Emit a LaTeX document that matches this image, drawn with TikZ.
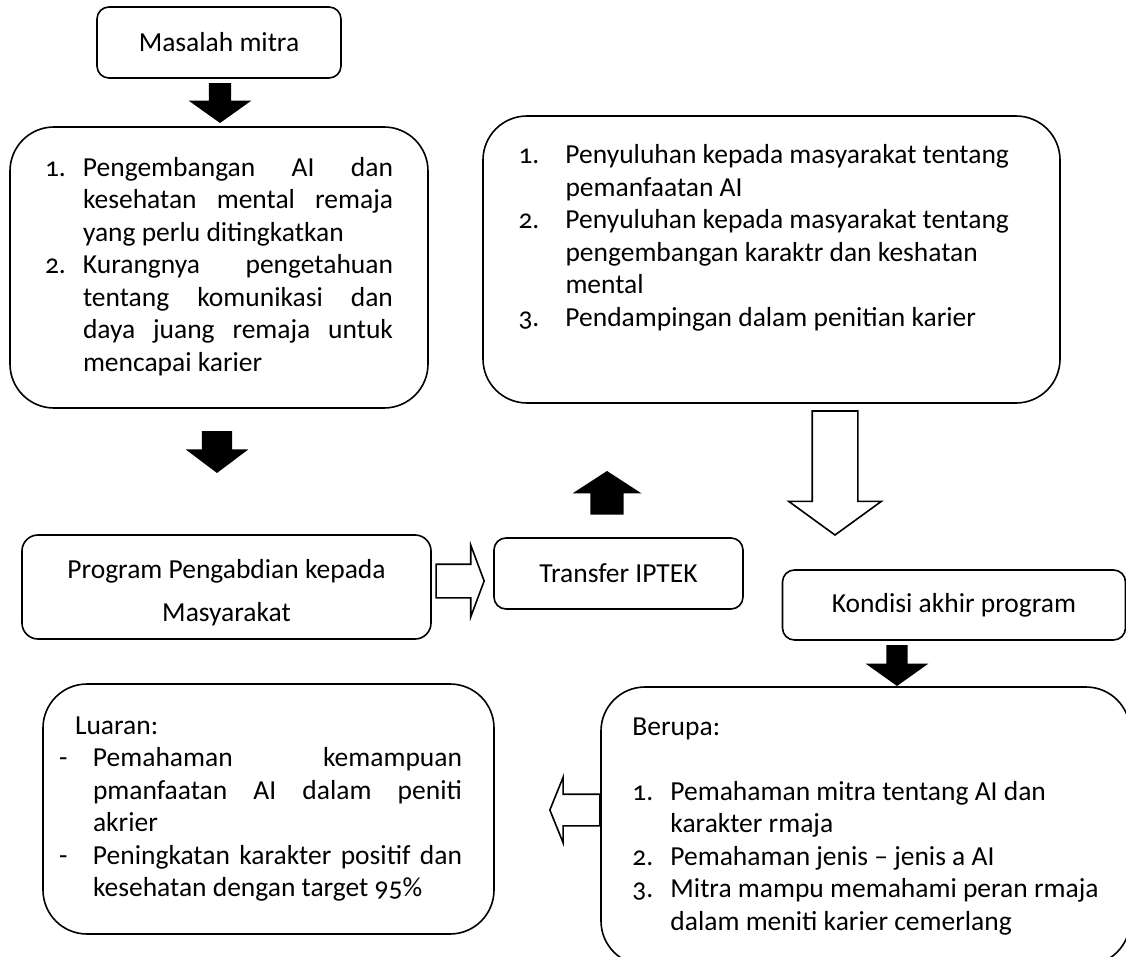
\documentclass[tikz,border=0pt]{standalone}
\usepackage{fontspec}
\setmainfont{Carlito}[Numbers=OldStyle]
\usepackage{tikz}
\usetikzlibrary{shapes.arrows}

\newcommand{\J}[1]{\makebox[\linewidth][s]{#1}}

\begin{document}
\begin{tikzpicture}[
    x = 1pt, y = -1pt, % pixel grid, y going down
    font = \fontsize{27.5}{32.5}\selectfont, % body text
    line width = 1.6pt % line style
    ]

    \tikzset{
    box/.style = {draw = black, rounded corners = 12pt, inner sep = 0pt},
    bigbox/.style = {box, rounded corners = 44pt},
    blackarrow/.style = {single arrow, draw = black, fill = black},
    whitearrow/.style = {single arrow, draw = black, fill = white}
    }

    \useasboundingbox (0,0) rectangle (1126,957);

    \node[box, minimum width = 244pt, minimum height = 71pt] (masalah) at (219,42.5) {Masalah mitra};
    \node[bigbox, minimum width = 418pt, minimum height = 281pt] (problem) at (219,267.5) {
      \begin{tabular}{@{}p{38pt}@{}p{310pt}@{}}
      1. & \J{Pengembangan AI dan}\\
         & \J{kesehatan mental remaja}\\
         & yang perlu ditingkatkan\\
      2. & \J{Kurangnya pengetahuan}\\
         & \J{tentang komunikasi dan}\\
         & \J{daya juang remaja untuk}\\
         & mencapai karier
      \end{tabular}};
    \node[bigbox, minimum width = 577pt, minimum height = 287pt] (penyuluhan) at (771.5,259.5) {
      \begin{tabular}{@{}p{47pt}@{}p{459pt}@{}}
      1. & Penyuluhan kepada masyarakat tentang\\
         & pemanfaatan AI\\
      2. & Penyuluhan kepada masyarakat tentang\\
         & pengembangan karaktr dan keshatan\\
         & mental\\
      3. & Pendampingan dalam penitian karier\\[42pt]
      \end{tabular}};

    \node[box, rounded corners = 16pt, minimum width = 409pt, minimum height = 104pt] (program) at (226.5,587) {
      \begin{tabular}{@{}c@{}}
      Program Pengabdian kepada\rule{0pt}{34.75pt}\\[10.5pt]
      Masyarakat
      \end{tabular}};
    \node[box, minimum width = 249pt, minimum height = 71pt] (transfer) at (618.5,573.5) {Transfer IPTEK};
    \node[box, minimum width = 343pt, minimum height = 70pt] (kondisi) at (954,605) {Kondisi akhir program};

    \node[bigbox, minimum width = 451pt, minimum height = 250pt] (luaran) at (268.5,809) {
      \begin{tabular}{@{}p{34pt}@{}p{369pt}@{\hspace{16pt}}}
      \multicolumn{2}{@{}l}{\hspace*{16pt}Luaran:}\\
      - & \J{Pemahaman kemampuan}\\
        & \J{pmanfaatan AI dalam peniti}\\
        & akrier\\
      - & \J{Peningkatan karakter positif dan}\\
        & kesehatan dengan target 95\%
      \end{tabular}};
    \node[bigbox, minimum width = 529pt, minimum height = 278pt] (berupa) at (865.5,826) {
      \begin{tabular}{@{}p{38pt}@{}l@{}}
      \multicolumn{2}{@{}l@{}}{Berupa:}\\
      \\
      1. & Pemahaman mitra tentang AI dan\\
         & karakter rmaja\\
      2. & Pemahaman jenis -- jenis a AI\\
      3. & Mitra mampu memahami peran rmaja\\
         & dalam meniti karier cemerlang
      \end{tabular}};

    % block arrows between the boxes
    \node[blackarrow, shape border rotate = 270, inner sep = 9.5pt, minimum height = 38pt, minimum width = 56pt,
      single arrow head extend = 18.5pt, single arrow tip angle = 109, anchor = tip] (down1) at (220,123) {};
    \node[blackarrow, shape border rotate = 270, inner sep = 13.5pt, minimum height = 40pt, minimum width = 56pt,
      single arrow head extend = 14.5pt, single arrow tip angle = 106, anchor = tip] (down2) at (217,473) {};
    \node[whitearrow, inner sep = 16pt, minimum height = 48pt, minimum width = 70pt,
      single arrow head extend = 19pt, single arrow tip angle = 139, anchor = tip] (right1) at (485,581) {};
    \node[blackarrow, shape border rotate = 90, inner sep = 15pt, minimum height = 37pt, minimum width = 62pt,
      single arrow head extend = 16pt, single arrow tip angle = 114, anchor = tip] (up1) at (607,471) {};
    \node[whitearrow, shape border rotate = 270, inner sep = 22pt, minimum height = 124pt, minimum width = 91pt,
      single arrow head extend = 23.5pt, single arrow tip angle = 108, anchor = tip] (down3) at (835,536) {};
    \node[blackarrow, shape border rotate = 270, inner sep = 9pt, minimum height = 39pt, minimum width = 56pt,
      single arrow head extend = 19pt, single arrow tip angle = 109, anchor = tip] (down4) at (897,686) {};
    \node[whitearrow, shape border rotate = 180, inner sep = 15pt, minimum height = 50pt, minimum width = 64pt,
      single arrow head extend = 17pt, single arrow tip angle = 136, anchor = tip] (left1) at (549,810) {};
\end{tikzpicture}
\end{document}
